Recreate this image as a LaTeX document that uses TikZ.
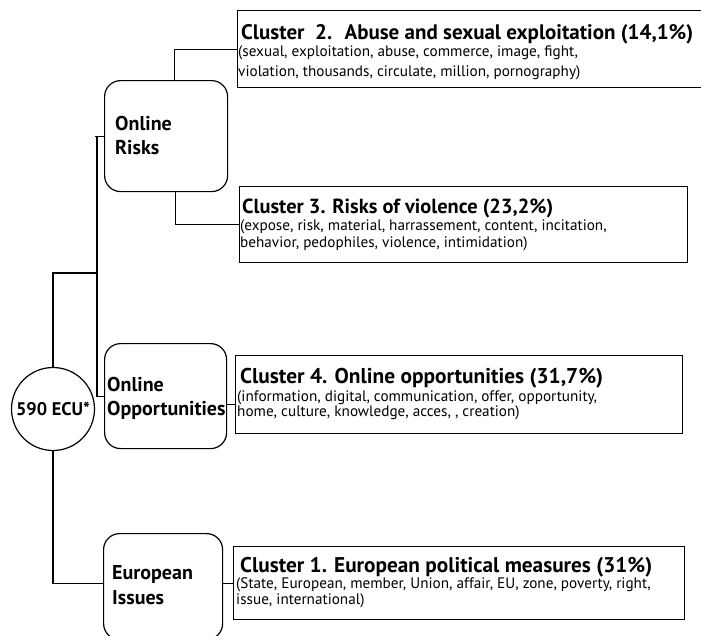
\documentclass[tikz,border=0pt]{standalone}
\usepackage{graphicx}
\usepackage{fontspec}
\setmainfont{PT Sans}
\begin{document}
\begin{tikzpicture}[x=1pt,y=-1pt]
\tikzset{
  rbox/.style={draw, rounded corners=16pt, line width=1.2pt, inner sep=0pt, anchor=north west},
  cbox/.style={draw, line width=1.2pt, inner sep=0pt, anchor=north west},
  ttl/.style={anchor=base west, inner sep=0pt, font=\bfseries\fontsize{21}{24}\selectfont},
  sub/.style={anchor=base west, inner sep=0pt, font=\fontsize{15.2}{19}\selectfont},
  lab/.style={anchor=base west, inner sep=0pt, font=\bfseries\fontsize{20}{24}\selectfont},
  wire/.style={line width=1.2pt}
}
\useasboundingbox[fill=white] (0,0) rectangle (701,635);
% cluster boxes
\node[cbox, minimum width=475, minimum height=77] (c2) at (237,10) {};
\node[cbox, minimum width=448, minimum height=76] (c3) at (239,186) {};
\node[cbox, minimum width=447, minimum height=78] (c4) at (235,355) {};
\node[cbox, minimum width=451, minimum height=73] (c1) at (233,546) {};
% category boxes
\node[rbox, minimum width=123, minimum height=111] (or) at (104,80) {};
\node[rbox, minimum width=122, minimum height=105] (oo) at (104,343) {};
\node[rbox, minimum width=119, minimum height=106] (ei) at (103,533) {};
% root
\node[draw, circle, line width=1.2pt, minimum size=83, inner sep=0pt,
      font=\bfseries\fontsize{18.3}{20}\selectfont] (root) at (53,409) {590 ECU*};
% texts
\node[ttl] (t2) at (241,39) {\resizebox{452pt}{!}{Cluster~ 2.~ Abuse and sexual exploitation (14,1\%)}};
\node[sub] (s2a) at (238,56) {(sexual, exploitation, abuse, commerce, image, fight,};
\node[sub] (s2b) at (238,76) {violation, thousands, circulate, million, pornography)};
\node[ttl] (t3) at (242,213) {\resizebox{311pt}{!}{Cluster 3. Risks of violence (23,2\%)}};
\node[sub] (s3a) at (240,230) {(expose, risk, material, harrassement, content, incitation,};
\node[sub] (s3b) at (240,247) {behavior, pedophiles, violence, intimidation)};
\node[ttl] (t4) at (240,383) {\resizebox{363pt}{!}{Cluster 4. Online opportunities (31,7\%)}};
\node[sub] (s4a) at (237,401) {(information, digital, communication, offer, opportunity,};
\node[sub] (s4b) at (237,416) {home, culture, knowledge, acces, , creation)};
\node[ttl] (t1) at (240,572) {\resizebox{412pt}{!}{Cluster 1. European political measures (31\%)}};
\node[sub] (s1a) at (236,588) {(State, European, member, Union, affair, EU, zone, poverty, right,};
\node[sub] (s1b) at (236,604) {issue, international)};
\node[lab] (l1a) at (115,130) {Online};
\node[lab] (l1b) at (115,154) {Risks};
\node[lab] (l2a) at (107,391) {Online};
\node[lab] (l2b) at (107,415) {Opportunities};
\node[lab] (l3a) at (112,579) {European};
\node[lab] (l3b) at (112,604) {Issues};
% connectors
\coordinate (trunktop) at ([xshift=-7pt]or.west);
\draw[wire] (c2.west) -| ([xshift=8pt]or.north);
\draw[wire] ([xshift=9pt]or.south) |- (c3.west);
\draw[wire] (or.west) -- ([xshift=-9pt]or.west);
\draw[wire] (trunktop) |- (oo.west);
\draw[wire] (root.north) |- (trunktop |- 0,273);
\draw[wire] (root.south) |- ([yshift=3pt]ei.west);
\draw[wire] ([yshift=-8pt]oo.east) -- ([yshift=-8pt]oo.east -| c4.west);
\draw[wire] ([yshift=3pt]ei.east) -- ([yshift=3pt]ei.east -| c1.west);
\end{tikzpicture}
\end{document}
